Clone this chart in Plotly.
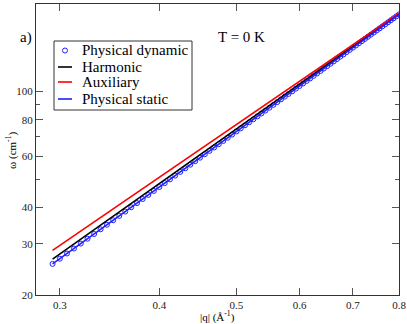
import plotly.graph_objects as go

# Physical dynamic (open circles)
q_dyn = [n / 160 for n in range(47, 129)]
w_dyn = [25.58, 26.66, 27.77, 28.89, 30.04, 31.22, 32.41, 33.63, 34.87, 36.13,
         37.41, 38.71, 40.04, 41.39, 42.76, 44.15, 45.57, 47.00, 48.46, 49.94,
         51.44, 52.97, 54.51, 56.08, 57.67, 59.28, 60.91, 62.57, 64.25, 65.95,
         67.67, 69.41, 71.17, 72.96, 74.77, 76.60, 78.45, 80.32, 82.22, 84.14,
         86.08, 88.04, 90.02, 92.02, 94.05, 96.10, 98.16, 100.25, 102.37, 104.50,
         106.66, 108.83, 111.03, 113.25, 115.50, 117.76, 120.05, 122.35, 124.68, 127.03,
         129.41, 131.80, 134.22, 136.65, 139.11, 141.59, 144.09, 146.62, 149.16, 151.73,
         154.31, 156.92, 159.55, 162.21, 164.88, 167.58, 170.29, 173.03, 175.79, 178.57,
         181.38, 184.20]

q_line = [0.29375, 0.35, 0.4, 0.45, 0.5, 0.55, 0.6, 0.65, 0.7, 0.75, 0.8]
w_harm = [26.58, 37.32, 48.34, 60.74, 74.48, 89.58, 106.03, 123.80, 142.93, 163.35, 185.1]
w_aux = [28.47, 39.55, 50.77, 63.30, 77.10, 92.16, 108.46, 125.98, 144.74, 164.69, 185.85]
w_stat = [25.58, 36.13, 47.00, 59.28, 72.96, 88.04, 104.50, 122.35, 141.59, 162.21, 184.20]

series_names = ["Physical dynamic", "Harmonic", "Auxiliary", "Physical static"]
series_colors = ["#2020ff", "black", "#ff0000", "#2020ff"]

x_ticks = [0.3, 0.4, 0.5, 0.6, 0.7, 0.8]
x_ticklabels = ["0.3", "0.4", "0.5", "0.6", "0.7", "0.8"]
y_ticks = [20, 30, 40, 60, 80, 100, 200]
y_ticklabels = ["20", "30", "40", "60", "80", "100", "200"]
y_minor = [50, 70, 90]

FONT = "Liberation Serif, Times New Roman, DejaVu Serif, serif"

fig = go.Figure()
fig.add_trace(go.Scatter(x=q_dyn, y=w_dyn, mode="markers", name=series_names[0],
                         marker=dict(symbol="circle-open", size=5, color=series_colors[0],
                                     line=dict(width=1, color=series_colors[0]))))
fig.add_trace(go.Scatter(x=q_line, y=w_harm, mode="lines", name=series_names[1],
                         line=dict(color=series_colors[1], width=1.6)))
fig.add_trace(go.Scatter(x=q_line, y=w_aux, mode="lines", name=series_names[2],
                         line=dict(color=series_colors[2], width=1.6)))
fig.add_trace(go.Scatter(x=q_line, y=w_stat, mode="lines", name=series_names[3],
                         line=dict(color=series_colors[3], width=1.6)))

# plot-area pixel frame
L, R, T, B = 36, 399, 4, 295
def px(xp):
    return (xp - L) / (R - L)
def py(yp):
    return (B - yp) / (B - T)

annotations = [
    dict(text="a)", x=px(18), y=py(37), xanchor="left", yanchor="middle", font=dict(size=15)),
    dict(text="T = 0 K", x=px(242), y=py(37), xanchor="center", yanchor="middle", font=dict(size=15)),
    dict(text="|q| (Å<sup>-1</sup>)", x=px(217), y=py(316), xanchor="center", yanchor="middle", font=dict(size=11)),
    dict(text="ω (cm<sup>-1</sup>)", x=px(11), y=py(150), xanchor="center", yanchor="middle",
         font=dict(size=11), textangle=-90),
]
shapes = [
    dict(type="rect", xref="paper", yref="paper", x0=px(54), x1=px(192), y0=py(110), y1=py(41),
         line=dict(color="#333", width=1), fillcolor="white", layer="above"),
]
row_y = [50.5, 67, 82, 99]
for i, (nm, col) in enumerate(zip(series_names, series_colors)):
    yy = row_y[i]
    if i == 0:
        shapes.append(dict(type="circle", xref="paper", yref="paper",
                           x0=px(62.5), x1=px(67.5), y0=py(yy + 2.5), y1=py(yy - 2.5),
                           line=dict(color=col, width=1), layer="above"))
    else:
        shapes.append(dict(type="line", xref="paper", yref="paper",
                           x0=px(58), x1=px(72), y0=py(yy), y1=py(yy),
                           line=dict(color=col, width=1.6), layer="above"))
    annotations.append(dict(text=nm, x=px(80), y=py(yy), xanchor="left", yanchor="middle",
                            font=dict(size=15)))
for a in annotations:
    a.update(xref="paper", yref="paper", showarrow=False)

fig.update_layout(
    width=407, height=324,
    margin=dict(l=36, r=8, t=4, b=29, autoexpand=False),
    paper_bgcolor="white", plot_bgcolor="white",
    font=dict(family=FONT, color="black", size=11),
    showlegend=False,
    xaxis=dict(type="log", range=[-0.55284, -0.09691], showgrid=False, zeroline=False,
               showline=True, linecolor="#333", linewidth=1, mirror="allticks",
               ticks="inside", ticklen=7, tickcolor="#555", automargin=False,
               tickmode="array", tickvals=x_ticks, ticktext=x_ticklabels,
               tickfont=dict(family=FONT, size=11, color="#222")),
    yaxis=dict(type="log", range=[1.30103, 2.30103], showgrid=False, zeroline=False,
               showline=True, linecolor="#333", linewidth=1, mirror="allticks",
               ticks="inside", ticklen=7, tickcolor="#555", automargin=False,
               tickmode="array", tickvals=y_ticks, ticktext=y_ticklabels,
               minor=dict(tickmode="array", tickvals=y_minor, ticks="inside",
                          ticklen=4, tickcolor="#555"),
               tickfont=dict(family=FONT, size=11, color="#222")),
    annotations=annotations,
    shapes=shapes,
)

fig.write_html("out.html", config={"displayModeBar": False},
               post_script="document.body.style.margin='0';document.body.style.overflow='hidden';")
